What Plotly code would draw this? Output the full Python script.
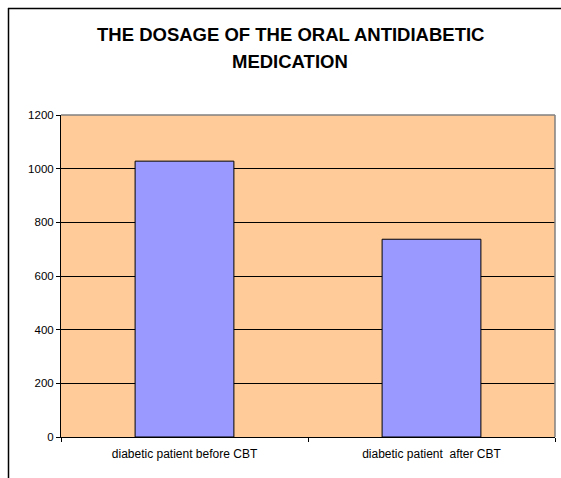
import plotly.graph_objects as go

categories = ["diabetic patient before CBT", "diabetic patient\u00a0 after CBT"]
dosage = [1028, 737]
y_ticks = [0, 200, 400, 600, 800, 1000, 1200]
title_lines = ["THE DOSAGE OF THE ORAL ANTIDIABETIC", "MEDICATION"]

W, H = 561, 478
L, R, T, B = 61, 6, 115, 41
pw, ph = W - L - R, H - T - B
FONT = "Liberation Sans, Arial, sans-serif"

def px_x(x):
    return (x - L) / pw

def px_y(y):
    return (H - B - y) / ph

fig = go.Figure(
    go.Bar(
        x=categories,
        y=dosage,
        marker=dict(color="#9999FF", line=dict(color="#000000", width=1)),
    )
)

# two-line bold heading, one annotation per line
title_ys = [35, 62]
annotations = [
    dict(text=line, xref="paper", yref="paper", x=px_x(290), y=px_y(yy),
         xanchor="center", yanchor="middle", showarrow=False,
         font=dict(size=18.5, family=FONT, weight="bold", color="#000000"))
    for line, yy in zip(title_lines, title_ys)
]

fig.update_layout(
    width=W,
    height=H,
    margin=dict(l=L, r=R, t=T, b=B),
    paper_bgcolor="#FFFFFF",
    plot_bgcolor="#FFCC99",
    bargap=0.6,
    showlegend=False,
    font=dict(family=FONT, color="#000000"),
    annotations=annotations,
    xaxis=dict(
        showline=True,
        linecolor="#000000",
        linewidth=1,
        ticks="outside",
        ticklen=4,
        tickcolor="#000000",
        tickson="boundaries",
        tickfont=dict(size=12),
        ticklabelstandoff=6,
        showgrid=False,
    ),
    yaxis=dict(
        range=[0, 1200],
        tickvals=y_ticks,
        showline=True,
        linecolor="#000000",
        linewidth=1,
        ticks="outside",
        ticklen=4,
        tickcolor="#000000",
        tickfont=dict(size=11.5),
        showgrid=True,
        gridcolor="#000000",
        gridwidth=1,
        zeroline=False,
    ),
    shapes=[
        # grey plot-area frame on the top and right edges
        dict(type="line", xref="paper", yref="paper", x0=0, x1=1, y0=1, y1=1,
             line=dict(color="#808080", width=1.5), layer="above"),
        dict(type="line", xref="paper", yref="paper", x0=1, x1=1, y0=0, y1=1,
             line=dict(color="#808080", width=1.5), layer="above"),
        # outer chart border: top and left edges
        dict(type="line", xref="paper", yref="paper",
             x0=px_x(8), x1=px_x(600), y0=px_y(8.5), y1=px_y(8.5),
             line=dict(color="#000000", width=1.5), layer="above"),
        dict(type="line", xref="paper", yref="paper",
             x0=px_x(8.5), x1=px_x(8.5), y0=px_y(8), y1=px_y(520),
             line=dict(color="#000000", width=1.5), layer="above"),
    ],
)

fig.write_html("out.html", config={"displayModeBar": False})
